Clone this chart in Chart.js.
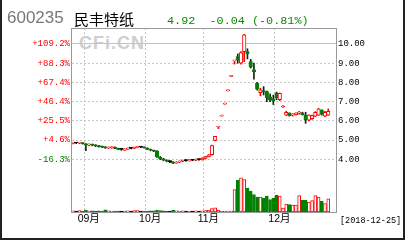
<!DOCTYPE html>
<html>
<head>
<meta charset="utf-8">
<script src="https://cdn.jsdelivr.net/npm/chart.js@4.4.1/dist/chart.umd.min.js"></script>
<style>
html, body { margin: 0; padding: 0; background: #fff; }
#wrap { position: relative; width: 408px; height: 240px; overflow: hidden; }
#chart { position: absolute; left: 0; top: 0; }
.txt { position: absolute; white-space: pre; line-height: 1; }
#wm { left: 79px; top: 33px; font: bold 18px 'Liberation Sans', sans-serif; color: #cecece; letter-spacing: 1px; }
#code { left: 7px; top: 8px; font: 17px 'Liberation Sans', sans-serif; color: #777; }
#name { left: 74px; top: 8px; font: 15px 'Noto Sans CJK SC', sans-serif; color: #000; }
#quote { left: 167px; top: 13.5px; font: 11.8px 'Liberation Mono', monospace; color: #0a8a0a; }
#date { left: 340px; top: 216px; font: 8.5px 'Liberation Mono', monospace; color: #000; }
</style>
</head>
<body>
<div id="wrap">
  <div class="txt" id="wm">CFi.CN</div>
  <canvas id="chart" width="408" height="240"></canvas>
  <div class="txt" id="code">600235</div>
  <div class="txt" id="name">民丰特纸</div>
  <div class="txt" id="quote">4.92  -0.04 (-0.81%)</div>
  <div class="txt" id="date">[2018-12-25]</div>
</div>
<script>
// trading days shown on the chart
const dates = [
    '2018-08-28', '2018-08-29', '2018-08-30', '2018-08-31',
    '2018-09-03', '2018-09-04', '2018-09-05', '2018-09-06', '2018-09-07',
    '2018-09-10', '2018-09-11', '2018-09-12', '2018-09-13', '2018-09-14',
    '2018-09-17', '2018-09-18', '2018-09-19', '2018-09-20', '2018-09-21',
    '2018-09-25', '2018-09-26', '2018-09-27', '2018-09-28',
    '2018-10-08', '2018-10-09', '2018-10-10', '2018-10-11', '2018-10-12',
    '2018-10-15', '2018-10-16', '2018-10-17', '2018-10-18', '2018-10-19',
    '2018-10-22', '2018-10-23', '2018-10-24', '2018-10-25', '2018-10-26',
    '2018-10-29', '2018-10-30', '2018-10-31',
    '2018-11-01', '2018-11-02', '2018-11-05', '2018-11-06', '2018-11-07',
    '2018-11-08', '2018-11-09', '2018-11-12', '2018-11-13', '2018-11-14',
    '2018-11-15', '2018-11-16', '2018-11-19', '2018-11-20', '2018-11-21',
    '2018-11-22', '2018-11-23', '2018-11-26', '2018-11-27', '2018-11-28',
    '2018-11-29', '2018-11-30',
    '2018-12-03', '2018-12-04', '2018-12-05', '2018-12-06', '2018-12-07',
    '2018-12-10', '2018-12-11', '2018-12-12', '2018-12-13', '2018-12-14',
    '2018-12-17', '2018-12-18', '2018-12-19', '2018-12-20', '2018-12-21',
    '2018-12-24', '2018-12-25'
];

const openP = [
    4.83, 4.85, 4.84, 4.86, 4.80, 4.74, 4.78, 4.72, 4.70, 4.66,
    4.63, 4.58, 4.60, 4.63, 4.56, 4.52, 4.48, 4.53, 4.58, 4.57,
    4.62, 4.64, 4.62, 4.58, 4.52, 4.46, 4.43, 4.12, 4.02, 3.95,
    3.88, 3.86, 3.80, 3.85, 3.90, 3.93, 3.92, 3.95, 3.95, 3.99,
    3.98, 4.05, 4.14, 4.24, 4.98, 5.68, 6.25, 6.87, 7.56, 8.31,
    9.12, 9.35, 9.00, 9.60, 9.60, 9.08, 8.65, 7.96, 7.47, 7.58,
    7.52, 7.25, 7.15, 7.45, 7.10, 6.72, 6.30, 6.40, 6.30, 6.32,
    6.40, 6.42, 6.30, 6.04, 6.12, 6.25, 6.30, 6.55, 6.25, 6.30
];
const highP = [
    4.87, 4.88, 4.88, 4.87, 4.82, 4.80, 4.80, 4.76, 4.72, 4.69,
    4.66, 4.65, 4.66, 4.65, 4.58, 4.55, 4.55, 4.60, 4.61, 4.64,
    4.67, 4.66, 4.65, 4.60, 4.54, 4.48, 4.45, 4.15, 4.05, 3.98,
    3.92, 3.88, 3.88, 3.92, 3.96, 3.97, 3.98, 3.99, 4.02, 4.02,
    4.08, 4.16, 4.25, 4.74, 5.19, 5.68, 6.25, 6.87, 7.56, 8.31,
    9.12, 9.48, 9.60, 10.50, 9.75, 9.20, 9.00, 8.00, 7.70, 7.78,
    7.55, 7.40, 7.34, 7.50, 7.45, 6.80, 6.50, 6.42, 6.38, 6.42,
    6.50, 6.45, 6.45, 6.32, 6.30, 6.48, 6.65, 6.58, 6.50, 6.62
];
const lowP = [
    4.80, 4.82, 4.81, 4.79, 4.45, 4.70, 4.70, 4.66, 4.63, 4.60,
    4.57, 4.56, 4.57, 4.55, 4.50, 4.47, 4.46, 4.51, 4.54, 4.55,
    4.60, 4.60, 4.58, 4.50, 4.44, 4.40, 4.10, 3.98, 3.92, 3.87,
    3.82, 3.78, 3.79, 3.83, 3.88, 3.90, 3.90, 3.93, 3.93, 3.95,
    3.96, 4.03, 4.12, 4.22, 4.96, 5.60, 6.25, 6.87, 7.56, 8.31,
    8.95, 9.00, 8.95, 9.08, 9.22, 8.75, 8.17, 7.60, 7.30, 7.35,
    7.00, 7.00, 6.85, 7.10, 7.05, 6.70, 6.28, 6.25, 6.25, 6.30,
    6.35, 6.30, 5.87, 6.00, 6.08, 6.22, 6.28, 6.30, 6.22, 6.28
];
const closeP = [
    4.85, 4.85, 4.86, 4.82, 4.76, 4.78, 4.73, 4.70, 4.66, 4.64,
    4.60, 4.62, 4.64, 4.57, 4.52, 4.52, 4.53, 4.58, 4.58, 4.62,
    4.64, 4.64, 4.60, 4.52, 4.47, 4.43, 4.12, 4.02, 3.95, 3.90,
    3.88, 3.80, 3.86, 3.90, 3.94, 3.93, 3.96, 3.95, 4.00, 3.99,
    4.05, 4.14, 4.22, 4.72, 5.19, 5.68, 6.25, 6.87, 7.56, 8.31,
    9.12, 9.18, 9.55, 10.47, 9.48, 8.79, 8.56, 7.65, 7.62, 7.50,
    7.20, 7.10, 7.05, 7.20, 7.43, 6.76, 6.45, 6.27, 6.35, 6.40,
    6.45, 6.32, 6.04, 6.30, 6.28, 6.45, 6.62, 6.35, 6.45, 6.50
];
// volume, 1000 lots
const volume = [
    12, 8, 14, 10, 20, 10, 12, 9, 11, 8,
    22, 12, 10, 9, 8, 7, 10, 12, 8, 14,
    13, 8, 9, 10, 12, 11, 18, 14, 12, 10,
    9, 20, 11, 10, 12, 8, 10, 8, 11, 8,
    12, 14, 16, 33, 42, 18, 6, 5, 5, 8,
    225, 318, 342, 325, 240, 210, 175, 150, 150, 140,
    160, 125, 140, 168, 158, 40, 80, 75, 68, 68,
    165, 118, 118, 98, 115, 165, 148, 108, 85, 132
];

const basePrice = 4.78;          // reference price for the % scale
const priceTicks = [4, 5, 6, 7, 8, 9, 10];
const priceMin = 1.26, priceMax = 10.83;
const volumeMax = 1840;

const RED = '#ff0000';
const GREEN = '#008000';
const BLACK = '#000000';

// month boundaries -> x axis ticks
const monthStarts = dates.map((d, i) => i)
    .filter(i => i > 0 && dates[i].slice(5, 7) !== dates[i - 1].slice(5, 7));

function candleColor(i) {
    if (closeP[i] > openP[i]) return RED;
    if (closeP[i] < openP[i]) return GREEN;
    if (i > 0 && closeP[i] > closeP[i - 1]) return RED;
    return BLACK;
}

function pctLabel(v) {
    const p = (v / basePrice - 1) * 100;
    return (p >= 0 ? '+' : '') + p.toFixed(1) + '%';
}

const framePlugin = {
    id: 'frame',
    afterDraw(chart) {
        const ctx = chart.ctx;
        const a = chart.chartArea;
        ctx.save();
        ctx.strokeStyle = '#9a9a9a';
        ctx.lineWidth = 1;
        ctx.strokeRect(Math.round(a.left) - 0.5, Math.round(a.top) + 0.5,
            Math.round(a.right - a.left) + 1, Math.round(a.bottom - a.top));
        // outer box
        ctx.fillStyle = '#222';
        ctx.fillRect(0, 0, 2, 240);
        ctx.fillRect(403, 0, 2, 240);
        ctx.fillRect(0, 238, 405, 2);
        ctx.restore();
    }
};

const monoFont = { family: "'Liberation Mono', monospace", size: 9 };

const ctx = document.getElementById('chart').getContext('2d');
const kChart = new Chart(ctx, {
    type: 'bar',
    data: {
        datasets: [
            {
                label: 'body',
                order: 1,
                yAxisID: 'y',
                grouped: false,
                data: dates.map((d, i) => ({ x: i, y: [openP[i], closeP[i]] })),
                barThickness: 3.5,
                minBarLength: 1,
                borderWidth: 1,
                borderSkipped: false,
                backgroundColor: c => candleColor(c.dataIndex) === RED ? '#ffffff' : candleColor(c.dataIndex),
                borderColor: c => candleColor(c.dataIndex)
            },
            {
                label: 'wick',
                order: 2,
                yAxisID: 'y',
                grouped: false,
                data: dates.map((d, i) => ({ x: i, y: [lowP[i], highP[i]] })),
                barThickness: 1,
                minBarLength: 1,
                borderWidth: 0,
                backgroundColor: c => {
                    const col = candleColor(c.dataIndex);
                    return col === GREEN ? '#1e1e1e' : col;
                }
            },
            {
                label: 'volume',
                order: 3,
                yAxisID: 'yVol',
                grouped: false,
                data: dates.map((d, i) => ({ x: i, y: volume[i] })),
                barThickness: 3,
                minBarLength: 1,
                borderWidth: 1,
                borderSkipped: false,
                backgroundColor: c => candleColor(c.dataIndex) === RED ? '#ffffff' : candleColor(c.dataIndex),
                borderColor: c => candleColor(c.dataIndex)
            }
        ]
    },
    options: {
        responsive: false,
        animation: false,
        devicePixelRatio: 1,
        layout: { padding: { top: 28, left: 0, right: 0, bottom: 0 } },
        plugins: {
            legend: { display: false },
            tooltip: { enabled: false }
        },
        scales: {
            x: {
                type: 'linear',
                min: -0.3,
                max: 81.4,
                offset: false,
                afterBuildTicks: s => { s.ticks = monthStarts.map(i => ({ value: i - 0.5 })); },
                afterFit: s => { s.height = 28; },
                grid: { offset: false, color: '#c4c4c4', drawTicks: false },
                border: { display: false, dash: [2, 2] },
                ticks: {
                    autoSkip: false,
                    maxRotation: 0,
                    padding: 1,
                    labelOffset: 4.5,
                    color: '#000',
                    font: { family: "'Liberation Sans', 'Noto Sans CJK SC', sans-serif", size: 10.5 },
                    callback: v => {
                        const i = monthStarts.find(m => m - 0.5 === v);
                        return i === undefined ? '' : dates[i].slice(5, 7) + '月';
                    }
                }
            },
            y: {
                position: 'right',
                min: priceMin,
                max: priceMax,
                afterBuildTicks: s => { s.ticks = priceTicks.map(v => ({ value: v })); },
                afterFit: s => { s.width = 72; },
                grid: { color: '#c4c4c4', drawTicks: false },
                border: { display: false, dash: c => (c.tick && c.tick.value === 10) ? [] : [2, 2] },
                ticks: {
                    padding: 2,
                    color: '#000',
                    font: monoFont,
                    callback: v => v.toFixed(2)
                }
            },
            yPct: {
                position: 'left',
                min: priceMin,
                max: priceMax,
                afterBuildTicks: s => { s.ticks = priceTicks.map(v => ({ value: v })); },
                afterFit: s => { s.width = 72; },
                grid: { display: false, drawTicks: false },
                border: { display: false },
                ticks: {
                    padding: 2,
                    color: c => c.tick.value >= basePrice ? RED : GREEN,
                    font: monoFont,
                    callback: v => pctLabel(v)
                }
            },
            yVol: {
                display: false,
                position: 'right',
                min: 0,
                max: volumeMax
            }
        }
    },
    plugins: [framePlugin]
});
</script>
</body>
</html>
